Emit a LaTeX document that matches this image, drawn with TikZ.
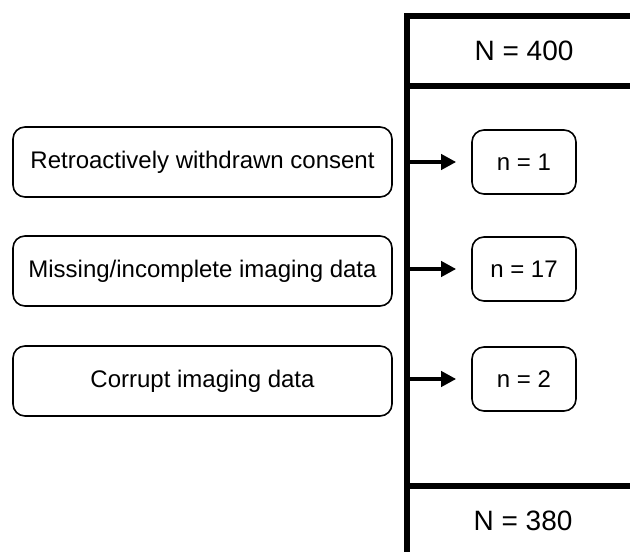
\documentclass[tikz,border=0pt]{standalone}
\usepackage{fontspec}
\setmainfont{Liberation Sans}
\usetikzlibrary{arrows.meta}
\tikzset{
  reason/.style={draw=black, line width=1.6pt, rounded corners=12pt, minimum width=379pt, minimum height=70pt, inner sep=0pt, font=\fontsize{24}{28}\selectfont},
  count/.style={draw=black, line width=1.6pt, rounded corners=12pt, minimum width=104pt, minimum height=64pt, inner sep=0pt, font=\fontsize{24}{28}\selectfont},
  total/.style={inner sep=0pt, font=\fontsize{28}{32}\selectfont},
  frame/.style={line width=5.5pt, line join=miter},
  exclude/.style={line width=4pt, -{Triangle[length=15pt,width=15pt]}, shorten >=15pt},
}
\begin{document}
\begin{tikzpicture}[x=1pt,y=-1pt]
\useasboundingbox (0,0) rectangle (630,552);
\fill[white] (0,0) rectangle (630,552);
% frame
\draw[frame] (645,16) -- (407,16) -- (407,560);
\draw[frame] (407,86) -- (645,86);
\draw[frame] (407,486) -- (645,486);
\node[total] (N1) at (524,51) {N = 400};
\node[total] (N2) at (523,521) {N = 380};
% reasons
\node[reason] (r1) at (202.5,162) {Retroactively withdrawn consent};
\node[reason] (r2) at (202.5,271) {Missing/incomplete imaging data};
\node[reason] (r3) at (202.5,381) {Corrupt imaging data};
% counts
\node[count] (c1) at (524,162) {n = 1};
\node[count] (c2) at (524,269) {n = 17};
\node[count] (c3) at (524,379) {n = 2};
% connectors
\coordinate (f1) at (407,162);
\coordinate (f2) at (407,269);
\coordinate (f3) at (407,379);
\draw[exclude] (f1) -- (c1.west);
\draw[exclude] (f2) -- (c2.west);
\draw[exclude] (f3) -- (c3.west);
\end{tikzpicture}
\end{document}
